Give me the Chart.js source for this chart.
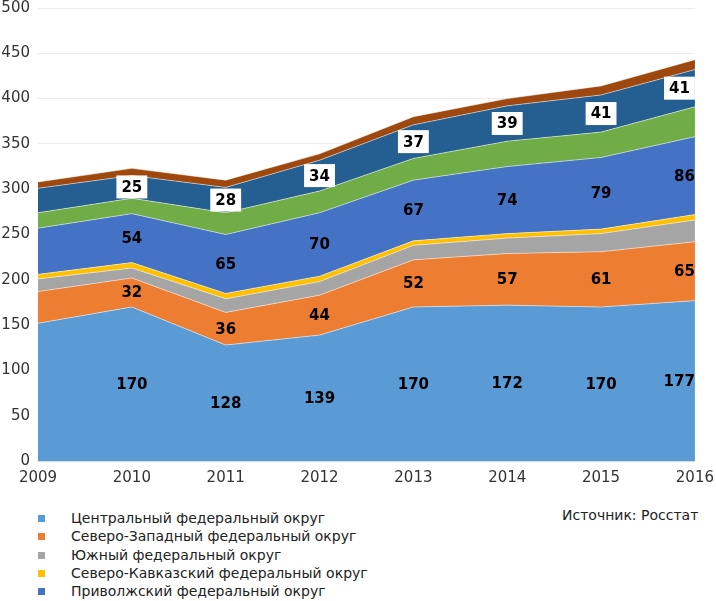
<!DOCTYPE html>
<html>
<head>
<meta charset="utf-8">
<script src="https://cdn.jsdelivr.net/npm/chart.js@4"></script>
<style>
  body { margin: 0; background: #fff; width: 716px; height: 601px; overflow: hidden; position: relative; font-family: "DejaVu Sans", sans-serif; }
  #wrap { position: absolute; left: 0; top: -9px; width: 716px; height: 498px; }
  #legend { position: absolute; left: 38px; top: 509px; font-size: 14px; color: #222; }
  #legend div { height: 18.3px; line-height: 18.3px; white-space: nowrap; }
  #legend span { display: inline-block; width: 7px; height: 7px; margin-right: 26px; vertical-align: 1px; }
  #source { position: absolute; left: 562px; top: 507px; font-size: 14px; color: #222; }
</style>
</head>
<body>
<div id="wrap"><canvas id="area"></canvas></div>
<div id="legend"></div>
<div id="source">Источник: Росстат</div>
<script>
const years = ['2009', '2010', '2011', '2012', '2013', '2014', '2015', '2016'];
const central = [152, 170, 128, 139, 170, 172, 170, 177];
const northWest = [35, 32, 36, 44, 52, 57, 61, 65];
const south = [14, 11, 15, 15, 16, 17, 20, 24];
const northCaucasus = [5, 6, 6, 6, 5, 5, 5, 6];
const volga = [51, 54, 65, 70, 67, 74, 79, 86];
const ural = [17, 17, 24, 24, 24, 28, 28, 33];
const siberia = [27, 25, 28, 34, 37, 39, 41, 41];
const farEast = [7, 8, 8, 7, 9, 8, 10, 11];
const yTicks = [0, 50, 100, 150, 200, 250, 300, 350, 400, 450, 500];

const names = [
    'Центральный федеральный округ',
    'Северо-Западный федеральный округ',
    'Южный федеральный округ',
    'Северо-Кавказский федеральный округ',
    'Приволжский федеральный округ',
    'Уральский федеральный округ',
    'Сибирский федеральный округ',
    'Дальневосточный федеральный округ'
];
const series = [central, northWest, south, northCaucasus, volga, ural, siberia, farEast];
const colors = ['#5b9bd5', '#ed7d31', '#a5a5a5', '#ffc000', '#4472c4', '#70ad47', '#255e91', '#9e480e'];
// which areas carry value labels, and which of those get a white box
const labelled = [true, true, false, false, true, false, true, false];
const boxed = [false, false, false, false, false, false, true, false];

// value labels in the middle of each band
const bandLabels = {
    id: 'bandLabels',
    afterDatasetsDraw(chart) {
        const ctx = chart.ctx;
        const area = chart.chartArea;
        ctx.save();
        ctx.font = 'bold 15px "DejaVu Sans"';
        ctx.textBaseline = 'middle';
        ctx.textAlign = 'center';
        chart.data.datasets.forEach((ds, d) => {
            if (!labelled[d]) return;
            const meta = chart.getDatasetMeta(d);
            const below = d > 0 ? chart.getDatasetMeta(d - 1) : null;
            meta.data.forEach((pt, i) => {
                if (i === 0) return;
                const base = below ? below.data[i].y : chart.scales.y.getPixelForValue(0);
                const y = (pt.y + base) / 2;
                const text = String(ds.data[i]);
                const w = ctx.measureText(text).width;
                const half = boxed[d] ? w / 2 + 5 : w / 2;
                let x = pt.x;
                if (x + half > area.right) x = area.right - half;
                if (boxed[d]) {
                    ctx.fillStyle = '#fff';
                    ctx.fillRect(x - half, y - 11.5, half * 2, 23);
                }
                ctx.fillStyle = '#000';
                ctx.fillText(text, x, y + 1);
            });
        });
        ctx.restore();
    }
};

new Chart(document.getElementById('area').getContext('2d'), {
    type: 'line',
    data: {
        labels: years,
        datasets: series.map((s, i) => ({
            label: names[i],
            data: s,
            backgroundColor: colors[i],
            borderColor: 'rgba(255,255,255,0.5)',
            borderWidth: 1,
            fill: i === 0 ? 'origin' : '-1',
            pointRadius: 0,
            tension: 0
        }))
    },
    options: {
        responsive: true,
        maintainAspectRatio: false,
        animation: false,
        layout: { padding: { top: 0, right: 19, left: 0, bottom: 0 } },
        scales: {
            x: {
                offset: false,
                grid: { display: false, drawTicks: true, tickLength: 6, color: '#d9d9d9' },
                border: { color: '#d9d9d9' },
                ticks: { color: '#333', font: { family: 'DejaVu Sans', size: 15 }, padding: 2, maxRotation: 0 }
            },
            y: {
                stacked: true,
                min: 0,
                max: 500,
                afterFit: s => { s.width = 38; },
                afterBuildTicks: s => { s.ticks = yTicks.map(v => ({ value: v })); },
                grid: { color: '#ececec', drawTicks: false },
                border: { display: false },
                ticks: { color: '#333', font: { family: 'DejaVu Sans', size: 15 }, padding: 8 }
            }
        },
        plugins: {
            legend: { display: false },
            tooltip: { enabled: false }
        }
    },
    plugins: [bandLabels]
});

// legend shows only the first five districts, like the source picture
const legend = document.getElementById('legend');
names.slice(0, 5).forEach((n, i) => {
    const row = document.createElement('div');
    row.innerHTML = '<span style="background:' + colors[i] + '"></span>' + n;
    legend.appendChild(row);
});
</script>
</body>
</html>
